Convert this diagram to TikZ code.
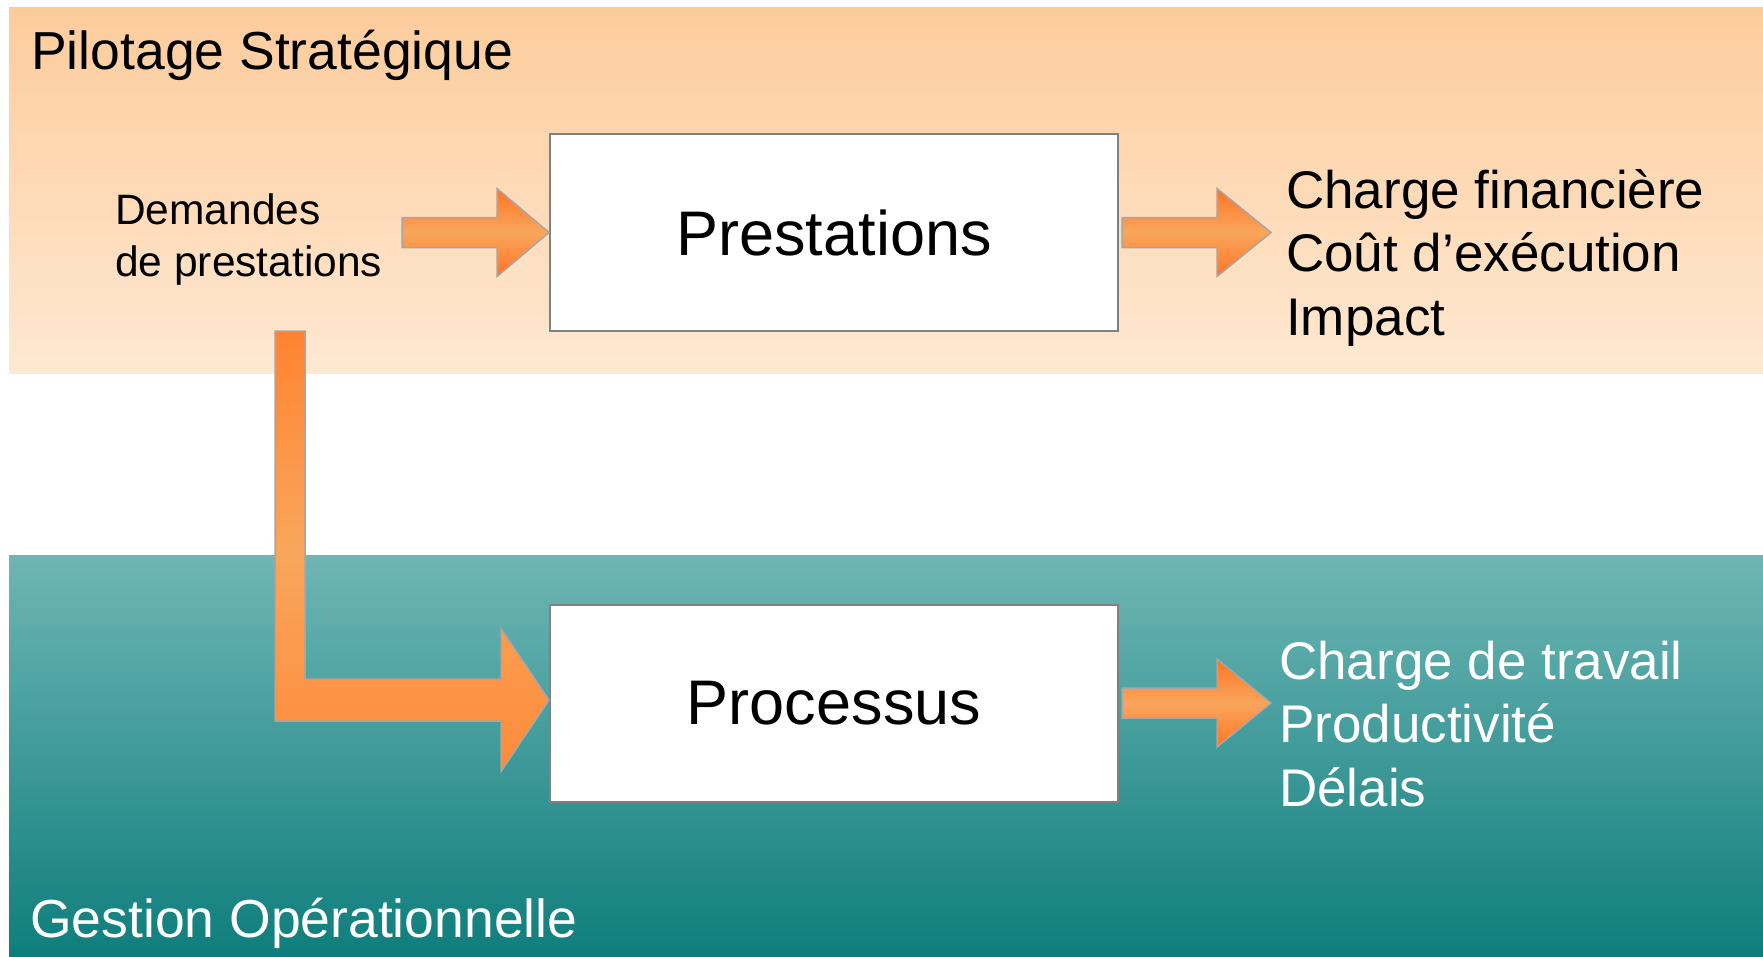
\documentclass[tikz,border=0pt]{standalone}
\usepackage{fontspec}
\setmainfont{Liberation Sans}
\usetikzlibrary{calc}
\definecolor{peachTop}{HTML}{FDCC9C}
\definecolor{peachBot}{HTML}{FFE8D2}
\definecolor{tealTop}{HTML}{6FB6B5}
\definecolor{tealBot}{HTML}{0E7E7C}
\definecolor{orDark}{HTML}{FF7426}
\definecolor{orLight}{HTML}{F9A65C}
\definecolor{orTop}{HTML}{FF8330}
\definecolor{orBot}{HTML}{FE8A3A}
\definecolor{boxLine}{HTML}{808080}
\definecolor{arrowLine}{HTML}{A6A6A6}
\begin{document}
\begin{tikzpicture}[x=1pt,y=-1pt,
  procbox/.style={draw=boxLine, line width=2pt, fill=white, minimum width=568pt,
    minimum height=197pt, inner sep=0pt, font=\fontsize{63}{74}\selectfont},
  blockarrow/.style={draw=arrowLine, line width=1.5pt, line join=miter,
    top color=orDark, bottom color=orDark, middle color=orLight},
  bentarrow/.style={draw=arrowLine, line width=1.5pt, line join=miter,
    top color=orTop, bottom color=orBot, middle color=orLight},
  label/.style={anchor=base west, inner sep=0pt}]
\useasboundingbox (0,0) rectangle (1763,956);
\fill[white] (0,0) rectangle (1763,956);
% bands
\shade[top color=peachTop, bottom color=peachBot] (9,7) rectangle (1763,373);
\shade[top color=tealTop, bottom color=tealBot] (9,555) rectangle (1763,956);
% titles
\node[label, font=\fontsize{53.5}{63}\selectfont] (ps) at (31,69) {Pilotage Stratégique};
\node[label, font=\fontsize{53.5}{63}\selectfont, text=white] (go) at (30,937) {Gestion Opérationnelle};
% boxes
\node[procbox] (prest) at (834,232.5) {Prestations};
\node[procbox] (proc) at (834,703) {Processus};
% input label
\node[label, font=\fontsize{42.5}{52}\selectfont] (dem) at (115,224)
  {\vtop{\hbox{Demandes}\hbox{de prestations}}};
% output labels
\node[label, font=\fontsize{53}{63.5}\selectfont] (outtop) at (1286,208)
  {\vtop{\hbox{Charge financière}\hbox{Coût d’exécution}\hbox{Impact}}};
\node[label, font=\fontsize{53}{63.5}\selectfont, text=white] (outbot) at (1279,679)
  {\vtop{\hbox{Charge de travail}\hbox{Productivité}\hbox{Délais}}};
% arrow: demandes -> prestations
\path[blockarrow] (prest.west) -- ++(-52,-44) -- ++(0,29) -- ++(-95,0) -- ++(0,30)
  -- ++(95,0) -- ++(0,29) -- cycle;
% arrow: prestations -> outputs
\path[blockarrow] ($(prest.east)+(3,-15)$) -- ++(95,0) -- ++(0,-29) -- ++(54,44)
  -- ++(-54,44) -- ++(0,-29) -- ++(-95,0) -- cycle;
% arrow: processus -> outputs
\path[blockarrow] ($(proc.east)+(3,-15)$) -- ++(95,0) -- ++(0,-29) -- ++(54,44)
  -- ++(-54,44) -- ++(0,-29) -- ++(-95,0) -- cycle;
% bent arrow: demandes -> processus
\path[bentarrow] ($(proc.west)+(0,-3)$) -- ++(-48,-71.5) -- ++(0,50.5) -- ++(-196,0)
  -- ++(0,-348) -- ++(-30,0) -- ++(0,390) -- ++(226,0) -- ++(0,50.5) -- cycle;
\end{tikzpicture}
\end{document}
